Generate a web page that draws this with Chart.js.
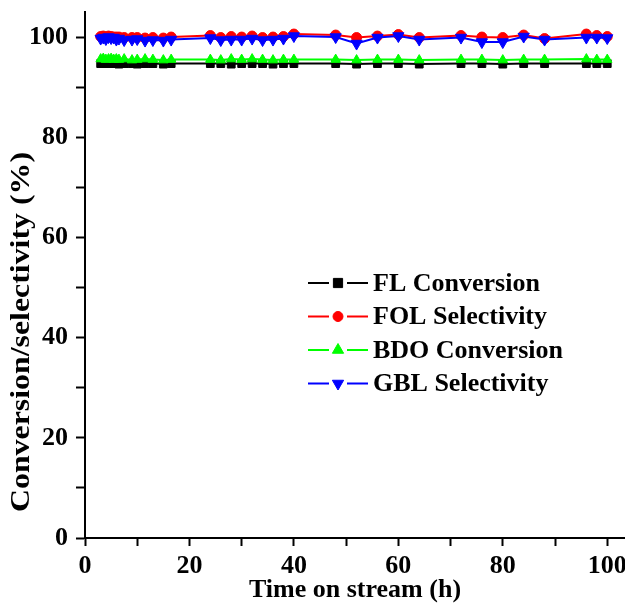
<!DOCTYPE html>
<html>
<head>
<meta charset="utf-8">
<title>Time on stream</title>
<script src="https://cdn.jsdelivr.net/npm/chart.js@4.4.1/dist/chart.umd.min.js"></script>
<style>
  html, body { margin: 0; padding: 0; background: #fff; }
  #chart { display: block; }
</style>
</head>
<body>
<canvas id="chart" width="625" height="611"></canvas>
<script>
// time on stream (h)
var hours = [3, 3.5, 4, 4.5, 5, 5.5, 6, 6.5, 7.5, 9, 10, 11.5, 13, 15, 16.5,
             24, 26, 28, 30, 32, 34, 36, 38, 40,
             48, 52, 56, 60, 64, 72, 76, 80, 84, 88, 96, 98, 100];

var flConversion = [94.7, 94.8, 94.7, 94.7, 94.8, 94.7, 94.7, 94.6, 94.7, 94.7, 94.6, 94.7, 94.7, 94.6, 94.7,
                    94.7, 94.7, 94.6, 94.7, 94.7, 94.7, 94.6, 94.7, 94.7,
                    94.7, 94.6, 94.7, 94.7, 94.6, 94.7, 94.7, 94.6, 94.7, 94.7, 94.7, 94.7, 94.7];

var folSelectivity = [100.1, 100.2, 100.0, 100.2, 100.1, 100.0, 100.0, 100.0, 99.9, 99.9, 99.9, 99.8, 99.9, 99.8, 100.0,
                      100.3, 99.9, 100.1, 100.0, 100.2, 99.9, 100.0, 100.1, 100.6,
                      100.4, 99.9, 100.2, 100.5, 99.9, 100.3, 100.0, 99.9, 100.4, 99.7, 100.6, 100.3, 100.1];

var bdoConversion = [95.6, 95.7, 95.5, 95.6, 95.7, 95.5, 95.6, 95.5, 95.6, 95.4, 95.5, 95.6, 95.5, 95.4, 95.5,
                     95.5, 95.4, 95.6, 95.5, 95.6, 95.5, 95.4, 95.5, 95.5,
                     95.5, 95.4, 95.5, 95.5, 95.4, 95.5, 95.5, 95.4, 95.5, 95.5, 95.6, 95.5, 95.5];

var gblSelectivity = [99.7, 99.9, 99.6, 100.0, 99.8, 99.9, 99.5, 99.7, 99.4, 99.5, 99.6, 99.3, 99.4, 99.3, 99.5,
                      99.8, 99.4, 99.5, 99.5, 99.7, 99.4, 99.5, 99.7, 100.2,
                      100.0, 98.7, 99.9, 100.2, 99.5, 99.9, 99.0, 99.0, 100.1, 99.5, 99.9, 99.9, 99.8];

var seriesNames = ["FL Conversion", "FOL Selectivity", "BDO Conversion", "GBL Selectivity"];

var serif = "'Liberation Serif', 'Times New Roman', serif";

function toPoints(values) {
    return hours.map(function(h, i) { return { x: h, y: values[i] }; });
}

function series(name, values, color, style, radius, rotation, order, legendRadius) {
    return {
        label: name,
        data: toPoints(values),
        borderColor: color,
        backgroundColor: color,
        borderWidth: 2,
        pointStyle: style,
        pointRadius: radius,
        pointRotation: rotation,
        pointBorderWidth: 1,
        pointBorderColor: color,
        pointBackgroundColor: color,
        order: order,
        legendRadius: legendRadius,
        tension: 0
    };
}

// legend drawn inside the plot, line - marker - line like the original
var insideLegend = {
    id: "insideLegend",
    afterDraw: function(chart) {
        var ctx = chart.ctx;
        ctx.save();
        ctx.font = "bold 26px " + serif;
        ctx.textBaseline = "middle";
        ctx.textAlign = "left";
        chart.data.datasets.forEach(function(ds, i) {
            var y = 283 + i * 33.5;
            ctx.strokeStyle = ds.borderColor;
            ctx.fillStyle = ds.borderColor;
            ctx.lineWidth = 2;
            ctx.beginPath();
            ctx.moveTo(308, y); ctx.lineTo(329, y);
            ctx.moveTo(347, y); ctx.lineTo(368, y);
            ctx.stroke();
            ctx.lineWidth = 1;
            Chart.helpers.drawPoint(ctx, {
                pointStyle: ds.pointStyle,
                radius: ds.legendRadius,
                rotation: ds.pointRotation,
                borderWidth: 1
            }, 338, y);
            ctx.fillStyle = "#000";
            ctx.fillText(ds.label, 373, y + 1);
        });
        ctx.restore();
    }
};

// rotated y title, set a bit lower than the axis centre
var yTitle = {
    id: "yTitle",
    afterDraw: function(chart) {
        var ctx = chart.ctx;
        ctx.save();
        ctx.translate(22, 332);
        ctx.rotate(-Math.PI / 2);
        ctx.scale(1.18, 1);
        ctx.font = "bold 27px " + serif;
        ctx.fillStyle = "#000";
        ctx.textAlign = "center";
        ctx.textBaseline = "middle";
        ctx.fillText("Conversion/selectivity (%)", 0, 0);
        ctx.restore();
    }
};

var tickFont = { family: serif, size: 26, weight: "bold" };

var chart = new Chart(document.getElementById("chart"), {
    type: "line",
    data: {
        datasets: [
            series(seriesNames[0], flConversion, "#000000", "rect", 5.5, 0, 3, 6.5),
            series(seriesNames[1], folSelectivity, "#ff0000", "circle", 5, 0, 1, 5),
            series(seriesNames[2], bdoConversion, "#00ff00", "triangle", 5.5, 0, 2, 6.5),
            series(seriesNames[3], gblSelectivity, "#0000ff", "triangle", 6.5, 180, 0, 6.5)
        ]
    },
    options: {
        responsive: false,
        animation: false,
        devicePixelRatio: 1,
        layout: { autoPadding: false, padding: { top: 12, right: 0, bottom: 0, left: 0 } },
        plugins: {
            legend: { display: false },
            tooltip: { enabled: false }
        },
        scales: {
            x: {
                type: "linear",
                min: 0,
                max: 103.4,
                border: { display: true, color: "#000", width: 2 },
                grid: {
                    drawOnChartArea: false,
                    drawTicks: true,
                    tickLength: 8,
                    tickColor: "#000",
                    tickWidth: 2
                },
                ticks: {
                    stepSize: 10,
                    includeBounds: false,
                    autoSkip: false,
                    maxRotation: 0,
                    padding: 5,
                    color: "#000",
                    font: tickFont,
                    callback: function(v) { return v % 20 === 0 ? v : ""; }
                },
                title: {
                    display: true,
                    text: "Time on stream (h)",
                    color: "#000",
                    font: { family: serif, size: 26, weight: "bold" },
                    padding: { top: 0, bottom: 5 }
                },
                afterFit: function(scale) {
                    scale.height = 73;
                    scale.paddingLeft = 0;
                    scale.paddingRight = 0;
                }
            },
            y: {
                min: 0,
                max: 105,
                border: { display: true, color: "#000", width: 2 },
                grid: {
                    drawOnChartArea: false,
                    drawTicks: true,
                    tickLength: 9,
                    tickColor: "#000",
                    tickWidth: 2
                },
                ticks: {
                    stepSize: 10,
                    includeBounds: false,
                    autoSkip: false,
                    padding: 8,
                    color: "#000",
                    font: tickFont,
                    callback: function(v) { return v % 20 === 0 ? v : ""; }
                },
                afterFit: function(scale) {
                    scale.width = 85;
                    scale.paddingTop = 0;
                    scale.paddingBottom = 0;
                }
            }
        }
    },
    plugins: [insideLegend, yTitle]
});
</script>
</body>
</html>
